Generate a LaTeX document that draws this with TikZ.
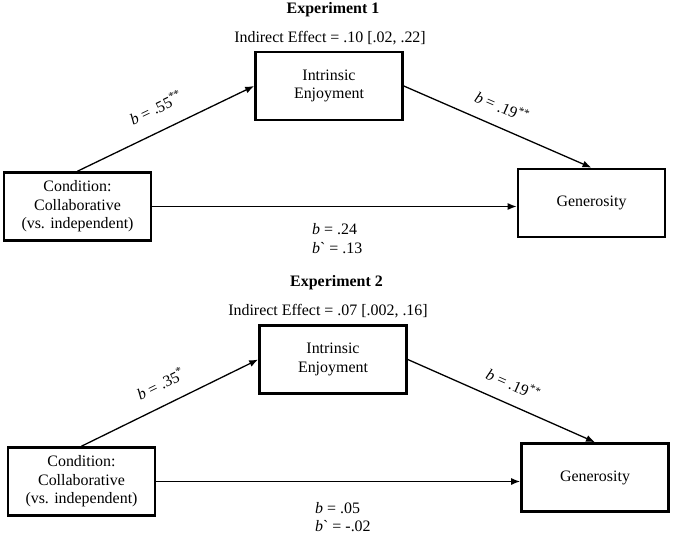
\documentclass[tikz,border=0pt]{standalone}
\usepackage{fontspec}
\setmainfont{Liberation Serif}
\usepackage{tikz}
\usetikzlibrary{arrows.meta, positioning, calc}
\tikzset{
	boxnode/.style={
			shape=rectangle,
			draw=black,
			line width=2.6bp,
			minimum width=147bp,
			minimum height=68bp,
			align=center,
			inner sep=0pt,
			font=\fontsize{16}{18.5}\selectfont
		},
	plaintext/.style={
			inner sep=0pt,
			anchor=base,
			font=\fontsize{16}{18.5}\selectfont
		},
	titletext/.style={
			plaintext,
			font=\fontsize{16}{18.5}\selectfont\bfseries
		},
	pathlabel/.style={
			inner sep=0pt,
			sloped,
			font=\fontsize{16}{18.5}\selectfont
		},
	patharrow/.style={
			-{Latex[length=9bp,width=7bp]},
			line width=1.3bp
		}
}

\begin{document}
\begin{tikzpicture}[x=1bp, y=-1bp]
			\useasboundingbox (0,0) rectangle (673,533);

			\node[titletext] (title1) at (333,13.5) {Experiment 1};
			\node[plaintext] (ind1) at (330,43) {Indirect Effect = .10 [.02, .22]};

			\node[boxnode] (intr1) at (329,86) {Intrinsic\\Enjoyment};
			\node[boxnode] (cond1) at (77.5,206.5) {Condition:\\Collaborative\\(vs. independent)};
			\node[boxnode] (gen1) at (591.5,203) {Generosity};

			\draw[patharrow] (cond1.north) -- node[pathlabel, above=16bp, pos=0.5] {\textit{b} = .55\textsuperscript{**}} (intr1.west);
			\draw[patharrow] (intr1.east) -- node[pathlabel, above=13bp, pos=0.48] {\textit{b} = .19\textsuperscript{**}} (gen1.north);
			\draw[patharrow] (cond1.east) -- (cond1.east -| gen1.west);

			\node[plaintext, anchor=base west] (dir1) at (312,235) {\textit{b} = .24};
			\node[plaintext, anchor=base west] (tot1) at (312,254) {\textit{b}\textasciigrave{} = .13};

			\node[titletext] (title2) at (336.5,286.5) {Experiment 2};
			\node[plaintext] (ind2) at (328,315) {Indirect Effect = .07 [.002, .16]};

			\node[boxnode] (intr2) at (333,359.5) {Intrinsic\\Enjoyment};
			\node[boxnode] (cond2) at (81.5,481.5) {Condition:\\Collaborative\\(vs. independent)};
			\node[boxnode] (gen2) at (595,477.5) {Generosity};

			\draw[patharrow] (cond2.north) -- node[pathlabel, above=14bp, pos=0.5] {\textit{b} = .35\textsuperscript{*}} (intr2.west);
			\draw[patharrow] (intr2.east) -- node[pathlabel, above=13bp, pos=0.52] {\textit{b} = .19\textsuperscript{**}} (gen2.north);
			\draw[patharrow] (cond2.east) -- (cond2.east -| gen2.west);

			\node[plaintext, anchor=base west] (dir2) at (315,513) {\textit{b} = .05};
			\node[plaintext, anchor=base west] (tot2) at (315,531) {\textit{b}\textasciigrave{} = -.02};

		\end{tikzpicture}
\end{document}
